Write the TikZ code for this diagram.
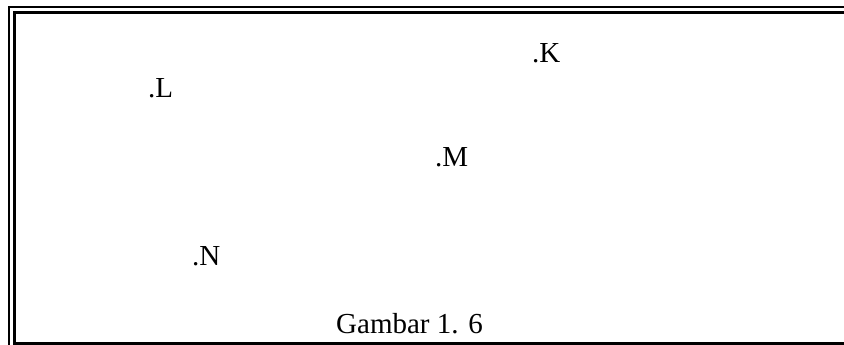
\documentclass[tikz,border=0pt]{standalone}
\usepackage{fontspec}
\setmainfont{Liberation Serif}
\begin{document}
\begin{tikzpicture}[x=1pt,y=-1pt,
  outerline/.style={line width=2pt,black},
  innerline/.style={line width=2.6pt,black},
  lbl/.style={anchor=base west,inner sep=0pt,font=\fontsize{29}{31}\selectfont}]
\useasboundingbox (0,0) rectangle (844,345);
% outer frame
\draw[outerline] (9,345) -- (9,7) -- (844,7);
% inner frame
\draw[innerline] (14.5,345) -- (14.5,12.5) -- (844,12.5);
\draw[line width=3pt] (13.2,343) -- (844,343);
% labels
\node[lbl] (K) at (532,63) {.K};
\node[lbl] (L) at (148,97) {.L};
\node[lbl] (M) at (435,166) {.M};
\node[lbl] (N) at (192,265) {.N};
\node[lbl] (cap) at (336,333) {Gambar 1. 6};
\end{tikzpicture}
\end{document}
